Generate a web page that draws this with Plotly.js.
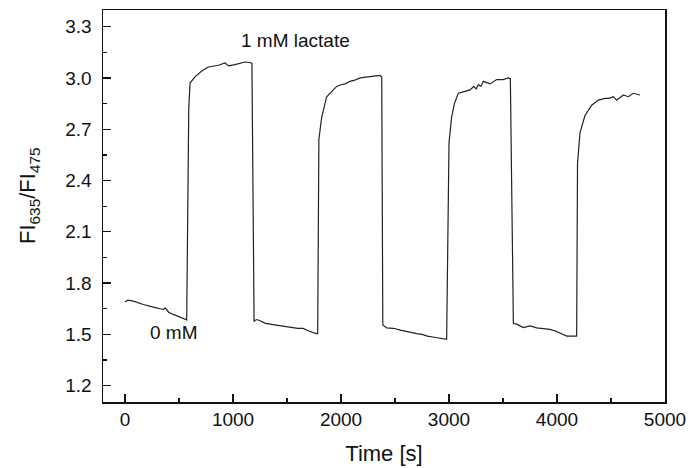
<!DOCTYPE html>
<html>
<head>
<meta charset="utf-8">
<script src="https://cdn.plot.ly/plotly-3.0.1.min.js"></script>
<style>html,body{margin:0;padding:0;background:#fff;}#chart{width:688px;height:468px;}</style>
</head>
<body>
<div id="chart"></div>
<script>
// Time [s]
const timeS = [
  0, 25, 77, 170, 262, 330, 355, 372, 404, 447, 509, 556, 571,
  590, 602, 648, 710, 771, 864, 926, 957, 1019, 1065, 1111, 1157, 1175,
  1195, 1220, 1250, 1300, 1400, 1500, 1600, 1650, 1700, 1770, 1784,
  1795, 1821, 1867, 1960, 2000, 2040, 2083, 2120, 2176, 2220, 2269, 2320, 2361, 2377,
  2387, 2423, 2485, 2550, 2650, 2700, 2750, 2800, 2850, 2900, 2963, 2978,
  3000, 3024, 3050, 3086, 3140, 3194, 3230, 3250, 3272, 3295, 3318, 3350, 3380, 3441, 3500, 3549, 3568,
  3596, 3627, 3688, 3750, 3812, 3870, 3935, 3997, 4050, 4090, 4167, 4182,
  4190, 4213, 4259, 4321, 4383, 4420, 4444, 4480, 4522, 4552, 4614, 4660, 4707, 4769
];
// FI635/FI475 ratio
const ratio = [
  1.69, 1.70, 1.695, 1.675, 1.66, 1.648, 1.646, 1.655, 1.63, 1.617, 1.60, 1.59, 1.585,
  2.82, 2.97, 3.006, 3.04, 3.064, 3.074, 3.087, 3.07, 3.078, 3.084, 3.093, 3.09, 3.085,
  1.578, 1.587, 1.58, 1.565, 1.555, 1.545, 1.535, 1.535, 1.52, 1.505, 1.505,
  2.64, 2.77, 2.89, 2.95, 2.96, 2.965, 2.98, 2.985, 3.0, 3.003, 3.01, 3.012, 3.015, 3.005,
  1.555, 1.538, 1.536, 1.525, 1.51, 1.505, 1.50, 1.49, 1.485, 1.48, 1.472, 1.472,
  2.62, 2.77, 2.85, 2.91, 2.92, 2.93, 2.95, 2.935, 2.96, 2.95, 2.98, 2.97, 2.965, 2.99, 2.99, 3.0, 2.995,
  1.564, 1.56, 1.54, 1.55, 1.538, 1.535, 1.53, 1.517, 1.50, 1.49, 1.49, 1.49,
  2.50, 2.68, 2.78, 2.84, 2.87, 2.875, 2.88, 2.88, 2.89, 2.87, 2.90, 2.89, 2.91, 2.90
];
const xTicks = [0, 1000, 2000, 3000, 4000, 5000];
const yTicks = [1.2, 1.5, 1.8, 2.1, 2.4, 2.7, 3.0, 3.3];
const yTickLabels = ["1.2", "1.5", "1.8", "2.1", "2.4", "2.7", "3.0", "3.3"];
const labelTexts = ["1 mM lactate", "0 mM"];
const labelX = [1583, 454];
const labelY = [3.22, 1.51];
const yTitleText = "FI<sub>635</sub>/FI<sub>475</sub>";

const font = "Liberation Sans, Arial, sans-serif";

const trace = {
  x: timeS, y: ratio, type: "scatter", mode: "lines",
  line: {color: "#222", width: 1.2}, hoverinfo: "skip", showlegend: false
};

const annotations = labelTexts.map((t, i) => ({
  x: labelX[i], y: labelY[i], xref: "x", yref: "y", text: t,
  showarrow: false, font: {size: 19, family: font, color: "#111"}
}));
annotations.push({
  x: -0.1317, y: 0.528, xref: "paper", yref: "paper", text: yTitleText,
  textangle: -90, showarrow: false, xanchor: "center", yanchor: "middle",
  font: {size: 22, family: font, color: "#111"}
});

const layout = {
  width: 688, height: 468,
  margin: {l: 103, r: 23, t: 10, b: 66},
  paper_bgcolor: "#fff", plot_bgcolor: "#fff",
  font: {family: font, color: "#111", size: 19},
  xaxis: {
    range: [-204, 5000], tickmode: "array", tickvals: xTicks,
    ticktext: xTicks.map(String),
    ticks: "inside", ticklen: 8, tickwidth: 1.3, tickcolor: "#111",
    minor: {ticks: "inside", ticklen: 4, tickwidth: 1.3, tickcolor: "#111", dtick: 500, tick0: 500, showgrid: false},
    showline: true, linecolor: "#111", linewidth: 1.5, mirror: true,
    showgrid: false, zeroline: false,
    tickfont: {size: 19, family: font},
    title: {text: "Time [s]", font: {size: 22, family: font}, standoff: 16},
    automargin: false
  },
  yaxis: {
    range: [1.105, 3.397], tickmode: "array", tickvals: yTicks, ticktext: yTickLabels,
    ticks: "inside", ticklen: 8, tickwidth: 1.3, tickcolor: "#111",
    minor: {ticks: "inside", ticklen: 4, tickwidth: 1.3, tickcolor: "#111", dtick: 0.3, tick0: 1.05, showgrid: false},
    showline: true, linecolor: "#111", linewidth: 1.5, mirror: true,
    showgrid: false, zeroline: false,
    ticklabelstandoff: 6,
    tickfont: {size: 19, family: font},
    automargin: false
  },
  annotations: annotations
};

Plotly.newPlot("chart", [trace], layout, {displayModeBar: false, staticPlot: true});
</script>
</body>
</html>
